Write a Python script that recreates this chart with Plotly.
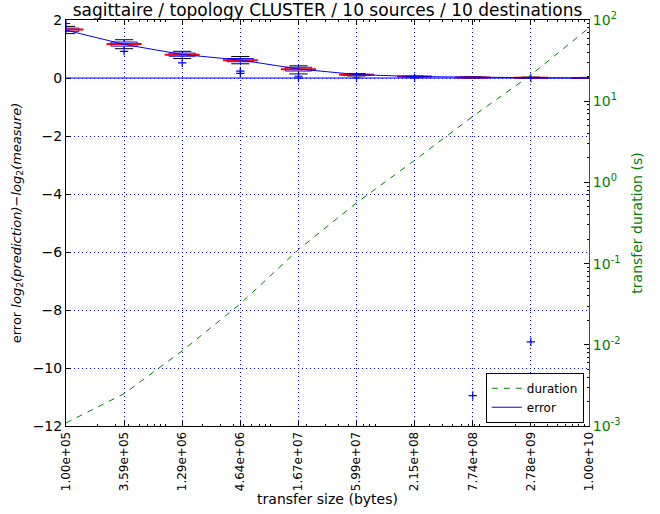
import numpy as np
import plotly.graph_objects as go

# ---------------- data ----------------
sizes = [1.00e5, 3.59e5, 1.29e6, 4.64e6, 1.67e7, 5.99e7, 2.15e8, 7.74e8, 2.78e9, 1.00e10]
tick_labels = ["1.00e+05", "3.59e+05", "1.29e+06", "4.64e+06", "1.67e+07",
               "5.99e+07", "2.15e+08", "7.74e+08", "2.78e+09", "1.00e+10"]

err_q1 = [1.61, 1.10, 0.75, 0.56, 0.24, 0.09, 0.04, 0.01, 0.00, -0.01]
err_med = [1.67, 1.17, 0.80, 0.61, 0.30, 0.11, 0.05, 0.02, 0.01, 0.00]
err_q3 = [1.72, 1.24, 0.86, 0.67, 0.37, 0.13, 0.06, 0.03, 0.02, 0.01]
err_lo = [1.53, 1.01, 0.67, 0.49, 0.14, 0.07, 0.03, 0.00, -0.01, -0.01]
err_hi = [1.78, 1.32, 0.92, 0.74, 0.42, 0.15, 0.07, 0.04, 0.03, 0.02]
err_line = [1.65, 1.16, 0.81, 0.62, 0.31, 0.12, 0.05, 0.02, 0.01, 0.00]

outlier_x = [1.00e5, 3.59e5, 1.29e6, 4.64e6, 4.64e6, 1.67e7, 1.67e7,
             5.99e7, 2.15e8, 7.74e8, 2.78e9, 2.78e9]
outlier_y = [1.88, 0.92, 0.52, 0.24, 0.16, 0.06, 0.00,
             0.00, 0.00, -10.95, 0.00, -9.10]

duration = [1.09e-3, 2.5e-3, 8.4e-3, 3.2e-2, 0.149, 0.56, 1.87, 6.5, 21.0, 80.0]

BLUE = "#0000ff"
GREEN = "#008000"
FONT = "DejaVu Sans"
GRID_DASH = "1px,3px"

fig = go.Figure()

# boxes
fig.add_trace(go.Box(
    x=sizes, q1=err_q1, median=err_med, q3=err_q3,
    lowerfence=err_lo, upperfence=err_hi,
    width=0.25, whiskerwidth=0, boxpoints=False,
    line=dict(color=BLUE, width=1), fillcolor="rgba(0,0,0,0)",
    showlegend=False, hoverinfo="skip", yaxis="y",
))
# whisker caps
fig.add_trace(go.Scatter(
    x=sizes + sizes, y=err_lo + err_hi, mode="markers",
    marker=dict(symbol="line-ew", size=13, line=dict(color="black", width=1)),
    showlegend=False, hoverinfo="skip", yaxis="y",
))
# medians
fig.add_trace(go.Scatter(
    x=sizes, y=err_med, mode="markers",
    marker=dict(symbol="line-ew", size=25, line=dict(color="red", width=2)),
    showlegend=False, hoverinfo="skip", yaxis="y",
))
# outliers
fig.add_trace(go.Scatter(
    x=outlier_x, y=outlier_y, mode="markers",
    marker=dict(symbol="cross-thin", size=6, line=dict(color=BLUE, width=1.2)),
    showlegend=False, hoverinfo="skip", yaxis="y",
))
# duration
fig.add_trace(go.Scatter(
    x=sizes, y=duration, mode="lines", name="duration",
    line=dict(color=GREEN, width=1, dash="6px,6px"),
    yaxis="y2", legendrank=1,
))
# error line
fig.add_trace(go.Scatter(
    x=sizes, y=err_line, mode="lines", name="error",
    line=dict(color=BLUE, width=1), yaxis="y", legendrank=2,
))

minor_x = [m * 10 ** e for e in range(5, 10) for m in range(2, 10)]
minor_y2 = [m * 10 ** e for e in range(-3, 2) for m in range(2, 10)]

fig.update_layout(
    width=660, height=514,
    margin=dict(l=66, r=71, t=20, b=88, autoexpand=False),
    paper_bgcolor="white", plot_bgcolor="white",
    font=dict(family=FONT, size=13, color="black"),
    title=dict(text="sagittaire / topology CLUSTER / 10 sources / 10 destinations",
               x=0.5, xref="paper", xanchor="center",
               y=1 - 10 / 514, yref="container", yanchor="middle",
               font=dict(size=17, family=FONT)),
    xaxis=dict(
        type="log", range=[5, 10], automargin=False,
        tickmode="array", tickvals=sizes, ticktext=tick_labels,
        tickangle=-90, tickfont=dict(size=12),
        ticks="inside", ticklen=5, tickcolor="black",
        showline=True, linecolor="black", linewidth=1, mirror="ticks",
        showgrid=True, gridcolor=BLUE, griddash=GRID_DASH, gridwidth=1,
        zeroline=False,
        minor=dict(tickmode="array", tickvals=minor_x, ticks="inside",
                   ticklen=2, tickcolor="black", showgrid=False),
        title=dict(text="transfer size (bytes)", font=dict(size=14), standoff=0),
    ),
    yaxis=dict(
        range=[-12, 2], dtick=2, tick0=0, automargin=False,
        tickfont=dict(size=14),
        ticks="inside", ticklen=5, tickcolor="black",
        showline=True, linecolor="black", linewidth=1,
        showgrid=True, gridcolor=BLUE, griddash=GRID_DASH, gridwidth=1,
        zeroline=False,
        title=dict(text="error <i>log</i><sub>2</sub><i>(prediction)</i>\u2212<i>log</i><sub>2</sub><i>(measure)</i>",
                   font=dict(size=13), standoff=8),
    ),
    yaxis2=dict(
        type="log", range=[-3, 2], overlaying="y", side="right", automargin=False,
        tickmode="array", tickvals=[1e-3, 1e-2, 1e-1, 1, 10, 100],
        ticktext=["10<sup>-3</sup>", "10<sup>-2</sup>", "10<sup>-1</sup>",
                  "10<sup>0</sup>", "10<sup>1</sup>", "10<sup>2</sup>"],
        tickfont=dict(size=14, color=GREEN),
        ticks="inside", ticklen=5, tickcolor="black",
        showline=True, linecolor=GREEN, linewidth=1,
        showgrid=False, zeroline=False,
        minor=dict(tickmode="array", tickvals=minor_y2, ticks="inside",
                   ticklen=2, tickcolor="black", showgrid=False),
        title=dict(text="transfer duration (s)", font=dict(size=14, color=GREEN), standoff=12),
    ),
    shapes=[dict(type="line", xref="paper", x0=0, x1=1, yref="y", y0=0, y1=0,
                 line=dict(color=BLUE, width=1), layer="above")],
    legend=dict(x=0.99, xanchor="right", y=0.008, yanchor="bottom",
                bgcolor="white", bordercolor="black", borderwidth=1,
                font=dict(size=12), tracegroupgap=0, itemwidth=30),
    showlegend=True,
)

fig.write_html("out.html", config={"displayModeBar": False},
               post_script="document.body.style.margin='0';document.body.style.padding='0';")
